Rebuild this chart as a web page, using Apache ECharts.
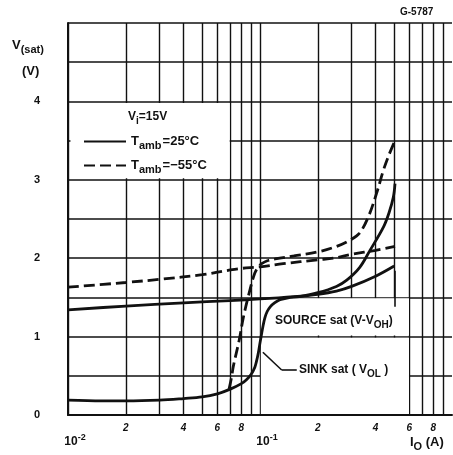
<!DOCTYPE html>
<html>
<head>
<meta charset="utf-8">
<script src="https://cdn.jsdelivr.net/npm/echarts@6/dist/echarts.min.js"></script>
<style>
html,body{margin:0;padding:0;background:#fff;}
#c{width:453px;height:455px;}
</style>
</head>
<body>
<div id="c"></div>
<script>
// ---- data (Io in A, V in volts) ----
var src25I = [0.01, 0.02, 0.04, 0.07, 0.1, 0.15, 0.2, 0.25, 0.3, 0.4, 0.5];
var src25V = [1.34, 1.39, 1.43, 1.46, 1.48, 1.51, 1.54, 1.58, 1.64, 1.77, 1.90];

var sink25I = [0.01, 0.015, 0.02, 0.03, 0.04, 0.05, 0.06, 0.07, 0.08, 0.085, 0.09, 0.094, 0.096, 0.098, 0.100, 0.102, 0.104, 0.106, 0.109, 0.113, 0.119, 0.127, 0.14, 0.16, 0.2, 0.25, 0.283, 0.33, 0.374, 0.44, 0.47, 0.495, 0.505];
var sink25V = [0.19, 0.18, 0.18, 0.19, 0.21, 0.23, 0.27, 0.33, 0.40, 0.45, 0.52, 0.61, 0.69, 0.79, 0.92, 1.04, 1.15, 1.24, 1.32, 1.38, 1.43, 1.47, 1.495, 1.51, 1.56, 1.64, 1.72, 1.88, 2.10, 2.40, 2.58, 2.78, 2.95];

var src55I = [0.01, 0.02, 0.03, 0.05, 0.07, 0.08, 0.1, 0.132, 0.2, 0.241, 0.3, 0.4, 0.505];
var src55V = [1.63, 1.69, 1.73, 1.79, 1.85, 1.87, 1.89, 1.93, 1.98, 2.00, 2.05, 2.10, 2.15];

var sink55I = [0.069, 0.0712, 0.0726, 0.078, 0.082, 0.0887, 0.094, 0.098, 0.102, 0.11, 0.12, 0.15, 0.2, 0.25, 0.294, 0.33, 0.367, 0.405, 0.439, 0.47, 0.505];
var sink55V = [0.33, 0.49, 0.62, 0.96, 1.25, 1.60, 1.81, 1.89, 1.93, 1.97, 1.99, 2.03, 2.08, 2.15, 2.23, 2.32, 2.53, 2.83, 3.12, 3.32, 3.50];

var xGridValues = [0.01,0.02,0.03,0.04,0.05,0.06,0.07,0.08,0.09,0.1,0.2,0.3,0.4,0.5,0.6,0.7,0.8,0.9];
var xDigitLabels = [0.02,0.04,0.06,0.08,0.2,0.4,0.6,0.8];
var xDecadeLabels = [0.01, 0.1];
var yLabelValues = [0,1,2,3,4];

function zip(a,b){ return a.map(function(v,i){return [v,b[i]];}); }

var FONT = 'Liberation Sans';
var INK = '#111';
var richBase = {
  v: {fontSize: 12, fontWeight: 'bold', fontFamily: FONT, color: INK, verticalAlign: 'middle'},
  b: {fontSize: 13, fontWeight: 'bold', fontFamily: FONT, color: INK, verticalAlign: 'middle'},
  w: {fontSize: 13, fontWeight: 'bold', fontFamily: FONT, color: INK, verticalAlign: 'middle', padding: [0,0,0,1]},
  s: {fontSize: 10, fontWeight: 'bold', fontFamily: FONT, color: INK, verticalAlign: 'middle', padding: [8,0,0,0]},
  t: {fontSize: 11, fontWeight: 'bold', fontFamily: FONT, color: INK, verticalAlign: 'middle', padding: [8,0,0,0]},
  p: {fontSize: 9, fontWeight: 'bold', fontFamily: FONT, color: INK, verticalAlign: 'middle', padding: [0,0,9,0]}
};

var chart = echarts.init(document.getElementById('c'), null, {renderer: 'canvas'});

function lineSeries(name, I, V, dashed, extra) {
  var s = {
    name: name,
    type: 'line',
    data: zip(I, V),
    symbol: 'none',
    smooth: 0.35,
    z: 5,
    lineStyle: {color: INK, width: 2.8, type: dashed ? [11, 5] : 'solid'},
    itemStyle: {color: INK}
  };
  for (var k in extra) s[k] = extra[k];
  return s;
}

var arrowStyle = {color: INK, width: 1.6, type: 'solid'};

var option = {
  animation: false,
  backgroundColor: '#fff',
  grid: {left: 68, right: 1, top: 23, bottom: 40, show: false},
  title: [
    {text: 'G-5787', left: 400, top: 7, padding: 0, textStyle: {fontSize: 10, fontWeight: 'bold', fontFamily: FONT, color: INK}},
    {text: '{b|V}{t|(sat)}', left: 12, top: 36, padding: 0, textStyle: {rich: richBase}},
    {text: '{b|(V)}', left: 22, top: 65, padding: 0, textStyle: {rich: richBase}},
    {text: '{v|V}{s|i}{v|=15V}', left: 128, top: 108, padding: 0, textStyle: {rich: richBase}},
    {text: '{b|I}{t|O}{b| (A)}', left: 410, top: 433, padding: 0, textStyle: {rich: richBase}},
    {text: '{v|SOURCE sat (V-V}{s|OH}{v|)}', left: 275, top: 312, padding: 0, textStyle: {rich: richBase}},
    {text: '{v|SINK sat ( V}{s|OL}{v| )}', left: 299, top: 361, padding: 0, textStyle: {rich: richBase}}
  ],
  legend: {
    data: ['25', '-55'],
    orient: 'vertical',
    left: 78,
    top: 130,
    itemWidth: 42,
    itemHeight: 12,
    itemGap: 8,
    selectedMode: false,
    itemStyle: {color: 'rgba(0,0,0,0)', borderColor: 'rgba(0,0,0,0)', borderWidth: 0},
    formatter: function (n) { return '{b|T}{t|amb}{w|=' + (n === '25' ? '25' : '\u221255') + '\u00b0C}'; },
    textStyle: {rich: richBase}
  },
  xAxis: [
    {
      type: 'log', logBase: 10, min: 0.01, max: 1,
      axisLine: {show: true, onZero: false, lineStyle: {color: INK, width: 2}},
      axisTick: {show: false, customValues: xGridValues},
      minorTick: {show: false},
      splitLine: {show: true, lineStyle: {color: INK, width: 1.4}},
      axisLabel: {
        customValues: xDigitLabels, margin: 8,
        fontSize: 10, fontWeight: 'bold', fontStyle: 'italic', fontFamily: FONT, color: INK,
        formatter: function (v) { var e = Math.floor(Math.log10(v) + 1e-9); return String(Math.round(v / Math.pow(10, e))); }
      }
    },
    {
      type: 'log', logBase: 10, min: 0.01, max: 1, position: 'bottom',
      axisLine: {show: false}, axisTick: {show: false}, splitLine: {show: false}, minorTick: {show: false},
      axisLabel: {
        customValues: xDecadeLabels, margin: 18, padding: [0,0,0,14],
        formatter: function (v) { return '{v|10}{p|' + Math.round(Math.log10(v)) + '}'; },
        rich: richBase
      }
    }
  ],
  yAxis: {
    type: 'value', min: 0, max: 5, interval: 0.5,
    axisLine: {show: true, lineStyle: {color: INK, width: 2}},
    axisTick: {show: false},
    splitLine: {show: true, lineStyle: {color: INK, width: 1.6}},
    axisLabel: {
      margin: 31, align: 'center',
      fontSize: 11, fontWeight: 'bold', fontFamily: FONT, color: INK,
      formatter: function (v) { return yLabelValues.indexOf(v) >= 0 ? String(v) : ''; }
    }
  },
  series: [
    lineSeries('25', src25I, src25V, false, {
      markArea: {
        silent: true,
        itemStyle: {color: '#fff', opacity: 1},
        data: [
          [{coord: [0.0103, 3.02]}, {coord: [0.0695, 3.98]}],
          [{coord: [0.101, 0.012]}, {coord: [0.597, 0.985]}],
          [{coord: [0.101, 1.015]}, {coord: [0.597, 1.49]}]
        ]
      },
      markLine: {
        silent: true, symbol: ['none', 'arrow'], symbolSize: [0, 10],
        lineStyle: arrowStyle, label: {show: false},
        data: [[{coord: [0.505, 1.38]}, {coord: [0.505, 1.84]}]]
      }
    }),
    lineSeries('25', sink25I, sink25V, false, {
      markLine: {
        silent: true, symbol: ['none', 'arrow'], symbolSize: [0, 10],
        lineStyle: arrowStyle, label: {show: false},
        data: [
          [{coord: [0.1297, 0.574]}, {coord: [0.1035, 0.80]}],
          [{coord: [0.1554, 0.574], symbol: 'none'}, {coord: [0.1297, 0.574], symbol: 'none'}]
        ]
      }
    }),
    lineSeries('-55', src55I, src55V, true, {}),
    lineSeries('-55', sink55I, sink55V, true, {})
  ]
};
chart.setOption(option);
</script>
</body>
</html>
